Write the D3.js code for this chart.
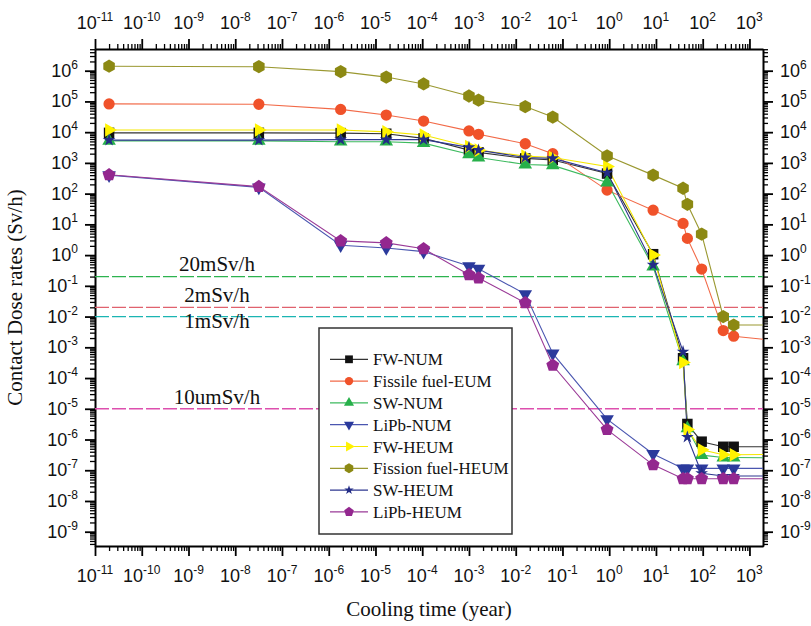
<!DOCTYPE html>
<html>
<head>
<meta charset="utf-8">
<script src="https://cdn.jsdelivr.net/npm/d3@7"></script>
<style>
  body { margin: 0; background: #fff; }
  .axis path, .axis line { stroke: #000; }
  .tick-label { font: 18px "Liberation Sans", Arial, sans-serif; fill: #111; }
  .title { font: 21px "Liberation Serif", "Times New Roman", serif; fill: #111; }
  .legend text { font: 17px "Liberation Serif", "Times New Roman", serif; fill: #111; }
</style>
</head>
<body>
<svg id="chart" width="811" height="626"></svg>
<script>
(function() {
  // cooling times (year); last one lies past the right edge, only its line shows
  var times = [2e-11, 3.2e-8, 1.8e-6, 1.7e-5, 1.07e-4, 1.0e-3, 1.6e-3, 1.6e-2, 6.2e-2,
               0.9, 8.7, 38, 47, 95, 275, 460, 1e4];

  // contact dose rates (Sv/h)
  var fw_num      = [9.5e3, 9.5e3, 9.3e3, 8.9e3, 6.3e3, 2.6e3, 2.2e3, 1.4e3, 1.25e3, 4.5e2, 1.07, 4.4e-4, 3.2e-6, 8.5e-7, 5.8e-7, 5.8e-7, 5.8e-7];
  var fissile_eum = [8.3e4, 8.1e4, 5.5e4, 3.6e4, 2.3e4, 1.1e4, 8.5e3, 4.2e3, 2.0e3, 1.3e2, 29, 10.7, 3.5, 0.35, 3.5e-3, 2.3e-3, 1.4e-3];
  var sw_num      = [5.2e3, 5.2e3, 4.9e3, 4.9e3, 4.4e3, 1.9e3, 1.5e3, 8.9e2, 8.3e2, 2.3e2, 0.42, 3.5e-4, 2.3e-6, 3.1e-7, 2.6e-7, 2.6e-7, 2.5e-7];
  var lipb_num    = [4.0e2, 1.6e2, 2.1, 1.7, 1.3, 0.44, 0.36, 0.054, 6.3e-4, 4.6e-6, 3.4e-7, 1.15e-7, 1.15e-7, 1.15e-7, 1.15e-7, 1.15e-7, 1.15e-7];
  var fw_heum     = [1.17e4, 1.17e4, 1.17e4, 1.02e4, 8.1e3, 3.4e3, 2.6e3, 1.66e3, 1.5e3, 7.6e2, 1.0, 3.2e-4, 2.1e-6, 4.6e-7, 3.2e-7, 3.2e-7, 3.3e-7];
  var fission_heum= [1.4e6, 1.35e6, 9.3e5, 6.2e5, 3.7e5, 1.5e5, 1.1e5, 6.8e4, 3.1e4, 1.7e3, 4.0e2, 1.5e2, 45, 4.8, 1.0e-2, 5.3e-3, 5.3e-3];
  var sw_heum     = [5.5e3, 5.5e3, 5.7e3, 5.7e3, 5.7e3, 3.2e3, 2.6e3, 1.5e3, 1.4e3, 4.8e2, 0.48, 7.2e-4, 1.2e-6, 8e-8, 6.5e-8, 6.5e-8, 6.5e-8];
  var lipb_heum   = [4.1e2, 1.7e2, 2.9, 2.5, 1.6, 0.23, 0.18, 0.028, 2.6e-4, 2.1e-6, 1.5e-7, 5.3e-8, 5.3e-8, 5.3e-8, 5.3e-8, 5.3e-8, 5.3e-8];

  var series_names = ["FW-NUM", "Fissile fuel-EUM", "SW-NUM", "LiPb-NUM",
                      "FW-HEUM", "Fission fuel-HEUM", "SW-HEUM", "LiPb-HEUM"];
  var series_values = [fw_num, fissile_eum, sw_num, lipb_num, fw_heum, fission_heum, sw_heum, lipb_heum];

  var limit_values = [0.2, 0.02, 0.01, 1e-5];
  var limit_labels = ["20mSv/h", "2mSv/h", "1mSv/h", "10umSv/h"];

  var x_exps = d3.range(-11, 4);
  var y_exps = d3.range(-9, 7);

  // styling
  var colors = ["#111111", "#F0522A", "#27B04A", "#2B3A9C", "#FFF200", "#8C8913", "#232C86", "#93278F"];
  var line_colors = ["#333333", "#F26A48", "#3DBA5E", "#4A56B0", "#F5E800", "#9A9830", "#2E3790", "#9A3A97"];
  var limit_colors = ["#2DB34F", "#E0626E", "#1BB5B2", "#DD4FAE"];
  var limit_label_dy = [-6, -5, 11, -5];

  var hexagon = { draw: function(ctx, size) {
    var r = Math.sqrt(size / (3 * Math.sqrt(3) / 2));
    for (var i = 0; i < 6; i++) {
      var a = Math.PI / 3 * i - Math.PI / 2;
      if (i == 0) ctx.moveTo(r * Math.cos(a), r * Math.sin(a)); else ctx.lineTo(r * Math.cos(a), r * Math.sin(a));
    }
    ctx.closePath();
  }};
  var pentagon = { draw: function(ctx, size) {
    var r = Math.sqrt(size / (2.5 * Math.sin(2 * Math.PI / 5)));
    for (var i = 0; i < 5; i++) {
      var a = 2 * Math.PI / 5 * i - Math.PI / 2;
      if (i == 0) ctx.moveTo(r * Math.cos(a), r * Math.sin(a)); else ctx.lineTo(r * Math.cos(a), r * Math.sin(a));
    }
    ctx.closePath();
  }};

  var markers = [
    {type: d3.symbolSquare, size: 110, rot: 0},
    {type: d3.symbolCircle, size: 100, rot: 0},
    {type: d3.symbolTriangle, size: 80, rot: 0},
    {type: d3.symbolTriangle, size: 80, rot: 180},
    {type: d3.symbolTriangle, size: 80, rot: 90},
    {type: hexagon, size: 115, rot: 0},
    {type: d3.symbolStar, size: 50, rot: 0},
    {type: pentagon, size: 110, rot: 0}
  ];

  var margin = {top: 49, right: 48, bottom: 80, left: 95},
    width = 811 - margin.left - margin.right,
    height = 626 - margin.top - margin.bottom;

  var x_scaler = d3.scaleLog()
          .domain([1e-11, Math.pow(10, 3.29)])
          .range([0, width]);

  var y_scaler = d3.scaleLog()
          .domain([Math.pow(10, -9.465), Math.pow(10, 6.706)])
          .range([height, 0]);

  var svg = d3.select("#chart");
  var chart = svg.append("g")
          .attr("transform", "translate(" + margin.left + "," + margin.top + ")");

  chart.append("clipPath").attr("id", "plot-clip")
    .append("rect").attr("width", width).attr("height", height);

  // minor ticks
  function minors(domain) {
    var out = [];
    var lo = Math.floor(Math.log10(domain[0])), hi = Math.ceil(Math.log10(domain[1]));
    for (var e = lo; e <= hi; e++) {
      for (var k = 2; k <= 9; k++) {
        var v = k * Math.pow(10, e);
        if (v >= domain[0] && v <= domain[1]) out.push(v);
      }
    }
    return out;
  }
  var x_major = x_exps.map(function(e) { return Math.pow(10, e); });
  var y_major = y_exps.map(function(e) { return Math.pow(10, e); });
  var x_minor = minors(x_scaler.domain());
  var y_minor = minors(y_scaler.domain());

  function drawAxis(axisFn, scale, transform) {
    var g1 = chart.append("g").attr("class", "axis").attr("transform", transform)
      .call(axisFn(scale).tickValues(scale === x_scaler ? x_minor : y_minor).tickFormat("").tickSize(5).tickSizeOuter(0));
    g1.selectAll("line").attr("stroke-width", 1.3);
    var g2 = chart.append("g").attr("class", "axis").attr("transform", transform)
      .call(axisFn(scale).tickValues(scale === x_scaler ? x_major : y_major).tickFormat("").tickSize(10).tickSizeOuter(0));
    g2.selectAll("line").attr("stroke-width", 1.8);
    g2.select("path").attr("stroke-width", 2);
  }
  drawAxis(d3.axisBottom, x_scaler, "translate(0," + height + ")");
  drawAxis(d3.axisTop, x_scaler, "translate(0,0)");
  drawAxis(d3.axisLeft, y_scaler, "translate(0,0)");
  drawAxis(d3.axisRight, y_scaler, "translate(" + width + ",0)");

  function powLabel(sel) {
    sel.append("tspan").text("10");
    sel.append("tspan").attr("dy", -8).attr("font-size", 12).text(function(e) { return e; });
  }

  chart.selectAll(".xlab-bottom").data(x_exps).enter().append("text")
    .attr("class", "tick-label").attr("text-anchor", "middle")
    .attr("x", function(e) { return x_scaler(Math.pow(10, e)); })
    .attr("y", height + 36)
    .call(powLabel);

  chart.selectAll(".xlab-top").data(x_exps).enter().append("text")
    .attr("class", "tick-label").attr("text-anchor", "middle")
    .attr("x", function(e) { return x_scaler(Math.pow(10, e)); })
    .attr("y", -20)
    .call(powLabel);

  chart.selectAll(".ylab-left").data(y_exps).enter().append("text")
    .attr("class", "tick-label").attr("text-anchor", "end")
    .attr("x", -17)
    .attr("y", function(e) { return y_scaler(Math.pow(10, e)) + 6; })
    .call(powLabel);

  chart.selectAll(".ylab-right").data(y_exps).enter().append("text")
    .attr("class", "tick-label").attr("text-anchor", "start")
    .attr("x", width + 17)
    .attr("y", function(e) { return y_scaler(Math.pow(10, e)) + 6; })
    .call(powLabel);

  chart.append("text").attr("class", "title")
    .attr("text-anchor", "middle")
    .attr("x", width / 2).attr("y", height + 70)
    .text("Cooling time (year)");

  chart.append("text").attr("class", "title")
    .attr("text-anchor", "middle")
    .attr("transform", "translate(" + (-73) + "," + (height / 2) + ") rotate(-90)")
    .text("Contact Dose rates (Sv/h)");

  // limit lines
  var limits = chart.append("g").attr("clip-path", "url(#plot-clip)");
  limit_values.forEach(function(v, i) {
    limits.append("line")
      .attr("x1", 0).attr("x2", width)
      .attr("y1", y_scaler(v)).attr("y2", y_scaler(v))
      .attr("stroke", limit_colors[i]).attr("stroke-width", 1.3)
      .attr("stroke-dasharray", "14,3");
    chart.append("text").attr("class", "title")
      .attr("text-anchor", "middle")
      .attr("x", 122).attr("y", y_scaler(v) + limit_label_dy[i])
      .text(limit_labels[i]);
  });

  // series
  var line = d3.line()
    .x(function(d) { return x_scaler(d[0]); })
    .y(function(d) { return y_scaler(d[1]); });

  var plot = chart.append("g").attr("clip-path", "url(#plot-clip)");
  var series = series_values.map(function(vals) {
    return vals.map(function(v, j) { return [times[j], v]; });
  });

  series.forEach(function(pts, i) {
    plot.append("path")
      .datum(pts)
      .attr("fill", "none")
      .attr("stroke", line_colors[i])
      .attr("stroke-width", 1.1)
      .attr("d", line);
  });

  series.forEach(function(pts, i) {
    var m = markers[i];
    plot.selectAll(".m" + i)
      .data(pts)
      .enter().append("path")
      .attr("class", "m" + i)
      .attr("transform", function(d) { return "translate(" + x_scaler(d[0]) + "," + y_scaler(d[1]) + ") rotate(" + m.rot + ")"; })
      .attr("d", d3.symbol().type(m.type).size(m.size))
      .style("fill", colors[i]);
  });

  // legend
  var legend = svg.append("g").attr("class", "legend")
    .attr("transform", "translate(319,328)");
  legend.append("rect")
    .attr("width", 193).attr("height", 206)
    .attr("fill", "#fff").attr("stroke", "#333").attr("stroke-width", 1.5);

  var items = legend.selectAll(".item")
    .data(series_names)
    .enter().append("g")
    .attr("class", "item")
    .attr("transform", function(d, i) { return "translate(0," + (31.3 + i * 21.8) + ")"; });

  items.append("line")
    .attr("x1", 11).attr("x2", 49)
    .attr("stroke", function(d, i) { return line_colors[i]; })
    .attr("stroke-width", 1.2);

  items.append("path")
    .attr("transform", function(d, i) { return "translate(30,0) rotate(" + markers[i].rot + ")"; })
    .attr("d", function(d, i) { return d3.symbol().type(markers[i].type).size(markers[i].size * 0.55)(); })
    .style("fill", function(d, i) { return colors[i]; });

  items.append("text")
    .attr("x", 54).attr("y", 6)
    .text(function(d) { return d; });
}());
</script>
</body>
</html>
